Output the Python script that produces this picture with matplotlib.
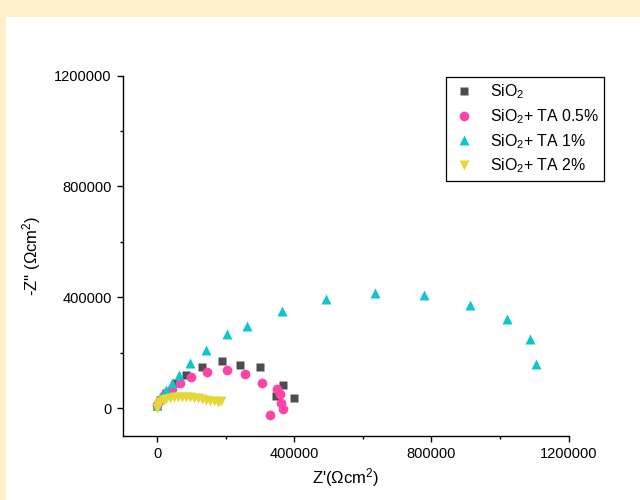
import matplotlib
matplotlib.use("Agg")
import matplotlib.pyplot as plt
from matplotlib.patches import Rectangle
from matplotlib.ticker import MultipleLocator

plt.rcParams['font.family'] = ['Liberation Sans', 'DejaVu Sans']
plt.rcParams['mathtext.fontset'] = 'custom'
plt.rcParams['mathtext.rm'] = 'Liberation Sans'
plt.rcParams['mathtext.it'] = 'Liberation Sans:italic'

labels = ["SiO$_2$", "SiO$_2$+ TA 0.5%", "SiO$_2$+ TA 1%", "SiO$_2$+ TA 2%"]

sio2_x = [1000, 9600, 27000, 56000, 85300, 131100, 190200, 242700, 300900, 366500, 347500, 400000]
sio2_y = [6000, 28000, 53000, 89500, 121000, 148500, 169200, 154700, 148500, 82200, 44200, 36200]

ta05_x = [1000, 9600, 24000, 43700, 67900, 99900, 145700, 204800, 256300, 304700, 348400, 359200, 361500, 365900, 328000]
ta05_y = [10000, 28000, 50000, 70300, 92000, 112300, 130400, 135500, 124600, 91300, 67800, 49600, 18800, -2200, -23500]

ta1_x = [0, 9600, 27100, 43700, 65000, 97000, 142700, 204800, 262200, 364400, 492300, 634400, 778600, 912600, 1021300, 1087400, 1105800]
ta1_y = [9800, 38800, 64100, 89500, 118500, 162000, 209000, 267000, 296000, 351400, 393100, 413700, 408300, 372100, 321400, 250000, 157200]

ta2_x = [0, 3800, 9600, 18000, 27000, 38700, 50400, 62000, 73700, 85300, 97000, 108700, 120300, 132000, 143600, 155300, 167000, 178600, 187300]
ta2_y = [-1000, 9800, 20600, 28000, 33300, 37000, 38800, 40600, 40600, 40600, 38800, 37000, 35100, 33300, 29700, 26100, 24300, 22500, 24300]

fig = plt.figure(figsize=(6.4, 5.0), dpi=100)
fig.patch.set_facecolor('#FFF1CC')
fig.patches.append(Rectangle((6/640, 0), 1, 1 - 16.5/500, transform=fig.transFigure,
                             facecolor='white', edgecolor='none', zorder=-10))

ax = fig.add_axes([122.7/640, 1 - 435.7/500, 446/640, 360/500])
ax.set_facecolor('white')

ax.plot(sio2_x, sio2_y, 's', color='#4D4D4D', ms=5.4, mec='none', label=labels[0], linestyle='none')
ax.plot(ta05_x, ta05_y, 'o', color='#FF44A8', ms=7.0, mec='none', label=labels[1], linestyle='none')
ax.plot(ta1_x, ta1_y, '^', color='#0FC6C8', ms=7.8, mec='none', label=labels[2], linestyle='none')
ax.plot(ta2_x, ta2_y, 'v', color='#E4D838', ms=7.6, mec='none', label=labels[3], linestyle='none')

ax.set_xlim(-100000, 1200000)
ax.set_ylim(-100000, 1200000)
ax.xaxis.set_minor_locator(MultipleLocator(200000))
ax.yaxis.set_minor_locator(MultipleLocator(200000))
ax.set_xticks([0, 400000, 800000, 1200000])
ax.set_yticks([0, 400000, 800000, 1200000])
ax.set_xticklabels(['0', '400000', '800000', '1200000'])
ax.set_yticklabels(['0', '400000', '800000', '1200000'])

for s in ['top', 'right']:
    ax.spines[s].set_visible(False)
for s in ['left', 'bottom']:
    ax.spines[s].set_linewidth(1.0)
    ax.spines[s].set_color('black')

ax.tick_params(which='major', direction='out', length=4, width=1, labelsize=10.5, pad=4)
ax.tick_params(which='minor', direction='out', length=2.5, width=1)

ax.set_xlabel("Z'(\u03a9cm$^2$)", fontsize=12, labelpad=4)
ax.set_ylabel("-Z'' (\u03a9cm$^2$)", fontsize=12, labelpad=8)

leg = ax.legend(loc='upper left', bbox_to_anchor=(446/640, 1 - 77/500), bbox_transform=fig.transFigure,
                fancybox=False, edgecolor='black', framealpha=1, fontsize=11.4,
                borderpad=0.35, labelspacing=0.38, handletextpad=0.85, handlelength=1.55,
                borderaxespad=0)
leg.get_frame().set_linewidth(0.9)

fig.savefig('out.png', dpi=100, facecolor=fig.get_facecolor())
